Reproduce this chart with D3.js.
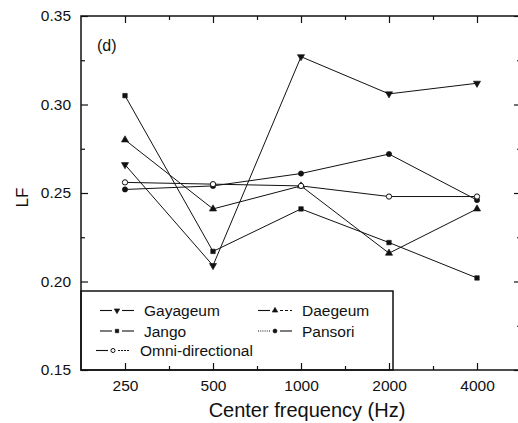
<!DOCTYPE html>
<html>
<head>
<meta charset="utf-8">
<script src="https://cdn.jsdelivr.net/npm/d3@7"></script>
<style>
  html, body { margin: 0; padding: 0; background: #fff; }
  svg { display: block; font-family: "Liberation Sans", Arial, Helvetica, sans-serif; }
</style>
</head>
<body>
<svg id="chart" width="518" height="423"></svg>
<script>
// ---- data ----
const frequencies = ["250", "500", "1000", "2000", "4000"];
const gayageum = [0.266, 0.209, 0.327, 0.306, 0.312];
const daegeum  = [0.280, 0.241, 0.254, 0.216, 0.241];
const jango    = [0.305, 0.217, 0.241, 0.222, 0.202];
const pansori  = [0.252, 0.254, 0.261, 0.272, 0.246];
const omni     = [0.256, 0.255, 0.254, 0.248, 0.248];
const yTicks = [0.15, 0.20, 0.25, 0.30, 0.35];
const yMinorTicks = [0.175, 0.225, 0.275, 0.325];
const seriesNames = ["Gayageum", "Daegeum", "Jango", "Pansori", "Omni-directional"];

const series = [
  { name: seriesNames[0], values: gayageum, marker: "tridown" },
  { name: seriesNames[1], values: daegeum,  marker: "triup" },
  { name: seriesNames[2], values: jango,    marker: "square" },
  { name: seriesNames[3], values: pansori,  marker: "circle" },
  { name: seriesNames[4], values: omni,     marker: "open" }
];

const svg = d3.select("#chart");
const pl = 81, pr = 521, pt = 16, pb = 370;
const ink = "#111";

const x = d3.scalePoint().domain(frequencies).range([pl, pr]).padding(0.5);
const xi = d3.scaleLinear().domain([-0.5, frequencies.length - 0.5]).range([pl, pr]);
const y = d3.scaleLinear().domain([0.15, 0.35]).range([pb, pt]);

function markerPath(type, size) {
  if (type === "tridown" || type === "triup") return d3.symbol(d3.symbolTriangle, size)();
  if (type === "square") return d3.symbol(d3.symbolSquare, size)();
  return d3.symbol(d3.symbolCircle, size)();
}
function drawMarker(g, type, cx, cy, size) {
  return g.append("path")
    .attr("d", markerPath(type, size))
    .attr("transform", `translate(${cx},${cy})` + (type === "tridown" ? " rotate(180)" : ""))
    .attr("stroke", ink).attr("stroke-width", type === "open" ? 1 : 0.6)
    .attr("fill", type === "open" ? "#fff" : ink);
}
const plotSize = { tridown: 22, triup: 22, square: 20, circle: 22, open: 22 };
const legSize  = { tridown: 13, triup: 13, square: 12, circle: 13, open: 13 };

// ---- lines ----
const line = d3.line().x((d, i) => x(frequencies[i])).y(d => y(d));
const gLines = svg.append("g");
series.forEach(s => {
  gLines.append("path").datum(s.values)
    .attr("d", line)
    .attr("fill", "none").attr("stroke", ink).attr("stroke-width", 1);
});
series.forEach(s => {
  s.values.forEach((v, i) => drawMarker(gLines, s.marker, x(frequencies[i]), y(v), plotSize[s.marker]));
});

// ---- axes ----
function styleAxis(g) {
  g.select(".domain").remove();
  g.selectAll(".tick line").attr("stroke", ink).attr("stroke-width", 1.2);
  g.selectAll(".tick text").attr("fill", ink).attr("font-size", "15.5px")
    .attr("font-family", "'Liberation Sans', Arial, Helvetica, sans-serif");
}
svg.append("g").attr("transform", `translate(${pl},0)`)
  .call(d3.axisLeft(y).tickValues(yTicks).tickFormat(d3.format(".2f")).tickSize(-7).tickPadding(10))
  .call(styleAxis);
svg.append("g").attr("transform", `translate(${pl},0)`)
  .call(d3.axisLeft(y).tickValues(yMinorTicks).tickFormat("").tickSize(-4)).call(styleAxis);
svg.append("g").attr("transform", `translate(${pr},0)`)
  .call(d3.axisRight(y).tickValues(yTicks).tickFormat("").tickSize(-7)).call(styleAxis);
svg.append("g").attr("transform", `translate(${pr},0)`)
  .call(d3.axisRight(y).tickValues(yMinorTicks).tickFormat("").tickSize(-4)).call(styleAxis);

svg.append("g").attr("transform", `translate(0,${pt})`)
  .call(d3.axisTop(x).tickFormat("").tickSize(-7)).call(styleAxis);
svg.append("g").attr("transform", `translate(0,${pt})`)
  .call(d3.axisTop(xi).tickValues([0.5, 1.5, 2.5, 3.5]).tickFormat("").tickSize(-4)).call(styleAxis);

// ---- legend box ----
const lg = svg.append("g");
lg.append("rect").attr("x", pl).attr("y", 291).attr("width", 393 - pl).attr("height", pb - 291)
  .attr("fill", "#fff").attr("stroke", ink).attr("stroke-width", 1.5);

// bottom axis (drawn over legend box)
svg.append("g").attr("transform", `translate(0,${pb})`)
  .call(d3.axisBottom(x).tickSize(-7).tickPadding(10)).call(styleAxis);
svg.append("g").attr("transform", `translate(0,${pb})`)
  .call(d3.axisBottom(xi).tickValues([0.5, 1.5, 2.5, 3.5]).tickFormat("").tickSize(-4)).call(styleAxis);

// ---- frame ----
svg.append("rect").attr("x", pl).attr("y", pt).attr("width", pr - pl).attr("height", pb - pt)
  .attr("fill", "none").attr("stroke", ink).attr("stroke-width", 1.5);

// ---- legend entries ----
const legendItems = [
  { s: series[0], x0: 100, row: 310.5, leftDash: null, rightDash: null },
  { s: series[1], x0: 258, row: 310.5, leftDash: null, rightDash: "3,2" },
  { s: series[2], x0: 100, row: 331,   leftDash: null, rightDash: null },
  { s: series[3], x0: 258, row: 331,   leftDash: "1,1.2", rightDash: null },
  { s: series[4], x0: 96,  row: 350.5, leftDash: null, rightDash: "2,1" }
];
legendItems.forEach(it => {
  const g = lg.append("g");
  const mx = it.x0 + 17;
  g.append("line").attr("x1", it.x0).attr("x2", mx - 5).attr("y1", it.row).attr("y2", it.row)
    .attr("stroke", ink).attr("stroke-width", 1.1).attr("stroke-dasharray", it.leftDash);
  g.append("line").attr("x1", mx + 5).attr("x2", mx + 17).attr("y1", it.row).attr("y2", it.row)
    .attr("stroke", ink).attr("stroke-width", 1.1).attr("stroke-dasharray", it.rightDash);
  drawMarker(g, it.s.marker, mx, it.row, legSize[it.s.marker]);
  g.append("text").attr("x", mx + 27).attr("y", it.row).attr("dy", "0.36em")
    .attr("font-size", "15.5px").attr("fill", ink).text(it.s.name);
});

// ---- labels ----
svg.append("text").attr("x", 97).attr("y", 51).attr("font-size", "16px").attr("fill", ink).text("(d)");
svg.append("text").attr("transform", "translate(28,197.5) rotate(-90)")
  .attr("text-anchor", "middle").attr("font-size", "17px").attr("fill", ink).text("LF");
svg.append("text").attr("x", 307).attr("y", 416.5).attr("text-anchor", "middle")
  .attr("font-size", "20px").attr("fill", ink).text("Center frequency (Hz)");
</script>
</body>
</html>
